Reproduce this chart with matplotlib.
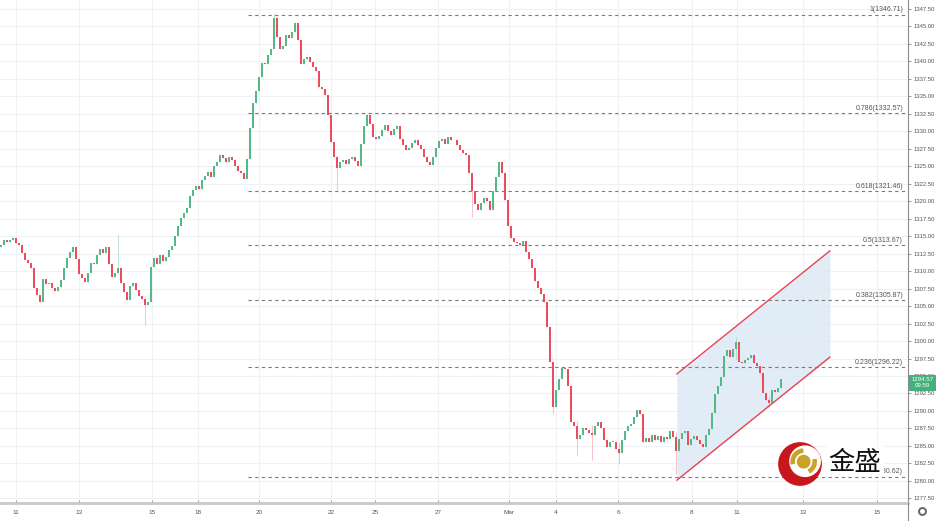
import numpy as np
import matplotlib.pyplot as plt
import matplotlib.transforms as mtransforms
from matplotlib.patches import Circle, Wedge, Rectangle
from matplotlib.lines import Line2D

# hourly-ish candles, closes (open = previous close)
first_open = 1313.5
closes = [
    1313.7, 1314.5, 1314.2, 1314.5, 1314.8, 1314.0, 1313.8, 1312.6, 1311.6, 1311.2,
    1310.5, 1307.6, 1306.6, 1305.6, 1308.9, 1308.2, 1308.3, 1307.6, 1307.1, 1307.8,
    1308.7, 1310.4, 1311.9, 1312.7, 1313.4, 1311.8, 1309.6, 1309.0, 1308.4, 1309.8,
    1311.2, 1311.0, 1312.3, 1313.2, 1312.6, 1313.4, 1311.0, 1309.2, 1309.8, 1310.4,
    1308.3, 1307.0, 1305.9, 1307.9, 1308.3, 1307.3, 1306.4, 1306.0, 1305.2, 1305.6,
    1310.6, 1311.9, 1311.0, 1312.3, 1311.5, 1312.0, 1313.0, 1313.6, 1315.0, 1316.4,
    1317.6, 1318.3, 1319.0, 1320.8, 1321.6, 1322.2, 1321.8, 1323.0, 1323.6, 1324.2,
    1323.4, 1325.0, 1325.6, 1326.6, 1326.2, 1325.6, 1326.4, 1325.9, 1325.0, 1324.3,
    1324.0, 1323.2, 1326.0, 1330.5, 1334.0, 1335.8, 1337.8, 1339.8, 1339.6, 1340.9,
    1341.8, 1346.2, 1343.5, 1341.8, 1342.2, 1343.8, 1343.3, 1344.2, 1345.5, 1343.0,
    1339.6, 1340.4, 1340.6, 1339.9, 1339.2, 1338.6, 1336.4, 1336.0, 1335.2, 1332.3,
    1328.5, 1326.3, 1324.7, 1325.6, 1325.9, 1325.3, 1326.0, 1326.4, 1325.7, 1325.1,
    1328.2, 1330.8, 1332.3, 1331.0, 1329.2, 1328.9, 1329.3, 1330.2, 1330.9, 1330.0,
    1329.5, 1330.4, 1330.8, 1328.9, 1328.0, 1327.3, 1327.6, 1328.3, 1328.8, 1328.0,
    1327.5, 1326.3, 1325.6, 1325.2, 1326.4, 1327.6, 1328.6, 1328.9, 1328.2, 1329.2,
    1328.8, 1328.7, 1328.0, 1327.4, 1326.9, 1326.6, 1324.0, 1321.5, 1319.6, 1318.8,
    1319.7, 1320.5, 1320.0, 1318.7, 1321.5, 1323.4, 1325.6, 1324.0, 1320.2, 1316.5,
    1314.8, 1314.2, 1314.0, 1313.7, 1314.3, 1312.8, 1311.8, 1310.5, 1308.6, 1307.6,
    1306.8, 1305.6, 1302.0, 1297.0, 1290.5, 1293.0, 1294.5, 1296.1, 1296.0, 1293.5,
    1288.4, 1287.9, 1286.0, 1286.6, 1287.6, 1287.3, 1286.9, 1286.6, 1287.8, 1288.4,
    1287.6, 1285.8, 1284.8, 1285.6, 1285.6, 1284.6, 1284.0, 1285.9, 1287.2, 1287.8,
    1288.1, 1289.2, 1290.2, 1289.5, 1285.6, 1286.2, 1285.6, 1286.6, 1285.9, 1286.4,
    1285.5, 1286.3, 1286.0, 1287.2, 1286.3, 1284.3, 1286.0, 1286.8, 1287.2, 1285.1,
    1286.0, 1286.4, 1285.8, 1285.2, 1284.9, 1286.5, 1287.4, 1289.7, 1292.4, 1293.6,
    1294.8, 1297.8, 1298.7, 1297.7, 1298.9, 1299.8, 1297.0, 1296.8, 1297.3, 1297.6,
    1298.0, 1296.9, 1296.5, 1295.4, 1292.6, 1291.6, 1291.1, 1293.0, 1292.7, 1293.3,
    1294.57,
]

# a few visible wick extremes
spike_idx = [39, 48, 91, 112, 157, 184, 192, 197, 206, 225, 245, 256]
spike_low = [1309.5, 1302.3, 1343.0, 1321.6, 1317.8, 1289.6, 1283.5, 1283.0, 1282.4, 1281.0, 1297.5, 1290.6]
spike_high = [1315.3, 1306.5, 1346.9, 1326.5, 1322.0, 1297.0, 1288.5, 1288.0, 1285.5, 1287.0, 1300.6, 1292.0]

fib_ratios = ["1", "0.786", "0.618", "0.5", "0.382", "0.236", "0"]
fib_prices = [1346.71, 1332.57, 1321.46, 1313.67, 1305.87, 1296.22, 1280.62]
fib_start = 82.3

date_pos = [5, 26, 50.3, 65.7, 86, 110, 124.7, 145.7, 169.3, 185, 205.7, 230.3, 245.3, 267.3, 292]
date_labels = ["11", "13", "15", "18", "20", "22", "25", "27", "Mar", "4", "6", "8", "11", "13", "15"]

chan_x = [225.3, 276.3]
chan_low = [1280.1, 1297.7]
chan_high = [1295.3, 1312.9]

last_price = 1294.57
countdown = "09:59"

UP = "#53b987"
DOWN = "#eb4d5c"
TXT = "#555555"

plt.rcParams['font.family'] = ['Liberation Sans', 'DejaVu Sans']

fig = plt.figure(figsize=(9.37, 5.21), dpi=100)
ax = fig.add_axes([0, 18 / 521, 908 / 937, 503 / 521])

closes = np.array(closes)
opens = np.r_[first_open, closes[:-1]]
x = np.arange(len(closes))
up = closes >= opens
highs = np.maximum(opens, closes)
lows = np.minimum(opens, closes)
for i, lo, hi in zip(spike_idx, spike_low, spike_high):
    lows[i] = min(lows[i], lo)
    highs[i] = max(highs[i], hi)

# channel
ax.fill_between(chan_x, chan_low, chan_high, color="#dce9f6", alpha=0.85, lw=0, zorder=1)
ax.plot(chan_x, chan_low, color="#e8434f", lw=1.0, zorder=4)
ax.plot(chan_x, chan_high, color="#e8434f", lw=1.0, zorder=4)

# fib levels
for r, p in zip(fib_ratios, fib_prices):
    ax.plot([fib_start, 310], [p, p], color="#7a7a7a", lw=0.8, ls=(0, (3, 3)), zorder=2)
    ax.text(300.7, p + 0.15, f"{r}({p:.2f})", ha="right", va="bottom",
            fontsize=5, color=TXT, zorder=3)

# candles
wcol = np.where(up, UP, DOWN)
ax.vlines(x, lows, highs, colors=wcol, lw=0.6, alpha=0.4, zorder=3)
body_h = np.maximum(np.abs(closes - opens), 0.12)
ax.bar(x, body_h, bottom=np.minimum(opens, closes), width=0.6,
       color=wcol, linewidth=0, zorder=3)

ax.set_xlim(-0.333, 302.333)
ax.set_ylim(1276.83, 1348.79)

ax.yaxis.tick_right()
ax.set_yticks(np.arange(1277.5, 1347.6, 2.5))
ax.set_yticklabels([f"{v:.2f}" for v in np.arange(1277.5, 1347.6, 2.5)])
ax.tick_params(axis="y", direction="out", length=2.5, width=0.6, pad=1.5,
               labelsize=4.2, colors="#888888", labelcolor=TXT)
ax.set_xticks(date_pos)
ax.set_xticklabels(date_labels)
ax.tick_params(axis="x", direction="in", length=2, width=0.6, pad=5,
               labelsize=4.6, colors="#888888", labelcolor=TXT)

ax.grid(color="#eef1f6", lw=0.8)
ax.set_axisbelow(True)
for s in ["top", "left"]:
    ax.spines[s].set_visible(False)
ax.spines["right"].set_color("#8c8c8c")
ax.spines["right"].set_linewidth(0.8)
ax.spines["bottom"].set_color("#c8c8c8")
ax.spines["bottom"].set_linewidth(2)

# last price label
trans = mtransforms.blended_transform_factory(ax.transAxes, ax.transData)
ax.text(1.016, last_price - 0.55, f"{last_price:.2f}\n{countdown}", transform=trans,
        ha="center", va="center", fontsize=4.4, color="white", linespacing=1.3,
        bbox=dict(fc="#45b07c", ec="none", pad=1.8), clip_on=False, zorder=6)

# axis line continues into the date strip, settings gear
fig.add_artist(Line2D([908 / 937, 908 / 937], [0, 18 / 521], color="#8c8c8c", lw=0.8))
fig.add_artist(Line2D([922 / 937], [10 / 521], marker="o", ms=5, mfc="white",
                      mec="#666666", mew=1.4))

# logo
fig.add_artist(Rectangle((826 / 937, 1 - 475 / 521), 58 / 937, 29 / 521,
                         transform=fig.transFigure, fc="white", ec="none", zorder=2))
fig.text(855 / 937, 1 - 463 / 521, "金盛", ha="center", va="center", fontsize=19,
         family=["Noto Sans CJK SC", "DejaVu Sans"], color="#111111", zorder=3)
lax = fig.add_axes([777 / 937, 1 - 487 / 521, 46 / 937, 46 / 521])
lax.set_aspect("equal")
lax.set_xlim(-1, 1)
lax.set_ylim(-1, 1)
lax.axis("off")
lax.add_patch(Circle((0, 0), 0.92, color="#c8161d"))
lax.add_patch(Circle((0.22, 0.12), 0.66, color="white"))
lax.add_patch(Circle((0.16, 0.1), 0.27, color="#c9a227"))
lax.add_patch(Wedge((0.16, 0.1), 0.55, 95, 190, width=0.14, color="#c9a227"))
lax.add_patch(Wedge((0.16, 0.1), 0.55, -60, 10, width=0.14, color="#c9a227"))

fig.savefig("out.png", dpi=100)
